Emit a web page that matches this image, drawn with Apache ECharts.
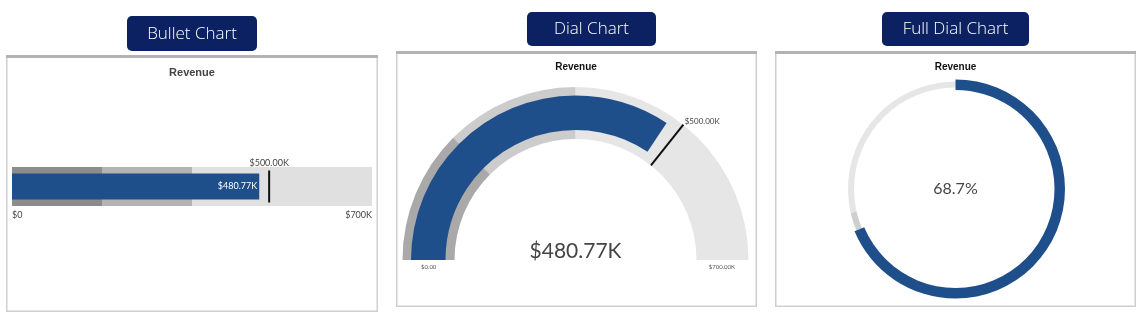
<!DOCTYPE html>
<html><head><meta charset="utf-8">
<script src="https://cdn.jsdelivr.net/npm/echarts@6/dist/echarts.min.js"></script>
<style>html,body{margin:0;padding:0;background:#fff}#c{width:1143px;height:317px}</style>
</head><body><div id="c"></div>
<script>
// ---- data ----
const chartTitles = ['Bullet Chart', 'Dial Chart', 'Full Dial Chart'];
const metricNames = ['Revenue'];
const rangeBreaks = [175, 350, 700];      // $K, upper bound of each qualitative range
const actualValues = [480.77];            // $K
const targetValues = [500];               // $K
const axisMin = 0, axisMax = 700;
const bulletTickLabels = ['$0', '$700K'];
const dialTickLabels = ['$0.00', '$700.00K'];

// ---- helpers ----
const money = v => '$' + Number(v).toFixed(2) + 'K';
const rangeSizes = rangeBreaks.map((b, i) => b - (i ? rangeBreaks[i - 1] : axisMin));
const bulletRangeColors = ['#8c8c8c', '#b3b3b3', '#e0e0e0'];
const dialRangeColors = ['#a9a9a9', '#cccccc', '#e6e6e6'];
const BLUE = '#1f4f8b';
const NAVY = '#0b2161';
const actual = actualValues[0], target = targetValues[0];
const span = axisMax - axisMin;

const dialStops = rangeBreaks.map((b, i) => [(b - axisMin) / span, dialRangeColors[i]]);
const fullStops = [[(actual - axisMin) / span, '#e6e6e6'], [(target - axisMin) / span, '#cfcfcf'], [1, '#e6e6e6']];

const tAng = Math.PI * (1 - (target - axisMin) / span);
const tLblR = 176;

const panels = [
  {x: 6, y: 55, w: 372, h: 257, bx: 127, by: 16, bw: 130, bh: 35},
  {x: 396, y: 51, w: 361, h: 256, bx: 527, by: 12, bw: 129, bh: 34},
  {x: 775, y: 51, w: 361, h: 256, bx: 882, by: 12, bw: 147, bh: 34}
];
const graphics = [];
panels.forEach((p, i) => {
  graphics.push({type: 'rect', silent: true, shape: {x: p.x + 0.75, y: p.y + 0.75, width: p.w - 1.5, height: p.h - 1.5},
    style: {fill: '#fff', stroke: '#cfcfcf', lineWidth: 1.5}, z: -10});
  graphics.push({type: 'rect', silent: true, shape: {x: p.x, y: p.y, width: p.w, height: 3},
    style: {fill: '#b3b3b3'}, z: -9});
  graphics.push({type: 'rect', silent: true, shape: {x: p.bx, y: p.by, width: p.bw, height: p.bh, r: 5},
    style: {fill: NAVY}, z: -9});
  graphics.push({type: 'text', silent: true, x: p.bx + p.bw / 2, y: p.by + p.bh / 2 + 0.5,
    style: {text: chartTitles[i], fill: '#fff', fontSize: 17, fontFamily: 'Open Sans', fontWeight: 300, align: 'center', verticalAlign: 'middle'}, z: -8});
});

const gaugeBase = {
  type: 'gauge', min: axisMin, max: axisMax, silent: true,
  axisTick: {show: false}, splitLine: {show: false, length: 0, distance: 0},
  axisLabel: {show: false}, pointer: {show: false}, anchor: {show: false},
  title: {show: false}, detail: {show: false}, progress: {show: false}
};

const option = {
  animation: false,
  graphic: graphics,
  title: [
    {text: metricNames[0], left: 192, top: 67, padding: 0, textAlign: 'center', textStyle: {fontSize: 11, fontWeight: 'bold', color: '#444', fontFamily: 'Liberation Sans'}},
    {text: metricNames[0], left: 576, top: 62, padding: 0, textAlign: 'center', textStyle: {fontSize: 10, fontWeight: 'bold', color: '#111', fontFamily: 'Liberation Sans'}},
    {text: metricNames[0], left: 955.5, top: 62, padding: 0, textAlign: 'center', textStyle: {fontSize: 10, fontWeight: 'bold', color: '#111', fontFamily: 'Liberation Sans'}}
  ],
  grid: {left: 12, top: 167, width: 360, height: 39, containLabel: false},
  xAxis: {
    type: 'value', min: axisMin, max: axisMax, interval: span,
    axisLine: {show: false}, axisTick: {show: false}, splitLine: {show: false},
    axisLabel: {
      margin: 5, fontSize: 9, color: '#444', fontFamily: 'Lato',
      alignMinLabel: 'left', alignMaxLabel: 'right',
      formatter: v => v === axisMin ? bulletTickLabels[0] : bulletTickLabels[1]
    }
  },
  yAxis: [
    {type: 'category', data: metricNames, show: false},
    {type: 'category', data: metricNames, show: false}
  ],
  series: [
    ...rangeSizes.map((s, i) => ({
      type: 'bar', stack: 'range', xAxisIndex: 0, yAxisIndex: 0, barWidth: 39, silent: true,
      data: [s], itemStyle: {color: bulletRangeColors[i]}, z: 1
    })),
    {
      type: 'bar', xAxisIndex: 0, yAxisIndex: 1, barWidth: 26, silent: true, z: 3,
      data: actualValues, itemStyle: {color: BLUE},
      label: {show: true, position: 'insideRight', distance: 2, color: '#fff', fontSize: 9, fontFamily: 'Lato', formatter: p => money(p.value)}
    },
    {
      type: 'scatter', xAxisIndex: 0, yAxisIndex: 1, silent: true, z: 4,
      symbol: 'rect', symbolSize: [2, 32],
      data: targetValues.map((t, i) => [t, metricNames[i]]),
      itemStyle: {color: '#111', opacity: 1},
      label: {show: true, position: 'top', distance: 3, color: '#444', fontSize: 9, fontFamily: 'Lato', formatter: p => money(p.value[0])}
    },
    // Dial: qualitative ranges + end labels
    Object.assign({}, gaugeBase, {
      center: [575.5, 260], radius: 173, startAngle: 180, endAngle: 0, splitNumber: 1, z: 2,
      axisLine: {show: true, lineStyle: {width: 52, color: dialStops}},
      axisLabel: {show: true, distance: 13.5, padding: [0, 0, 0, 5], lineHeight: 14, fontSize: 6, color: '#555', fontFamily: 'Lato',
        formatter: v => '\n' + (v === axisMin ? dialTickLabels[0] : dialTickLabels[1])},
      data: [{value: actual, name: metricNames[0]}]
    }),
    // Dial: actual value bar
    Object.assign({}, gaugeBase, {
      center: [575.5, 260], radius: 164.5, startAngle: 180, endAngle: 0, z: 3,
      axisLine: {show: false, lineStyle: {width: 34.5}},
      progress: {show: true, overlap: true, width: 34.5, roundCap: false, itemStyle: {color: BLUE}},
      detail: {show: true, offsetCenter: [0, -9], fontSize: 21, color: '#444', fontFamily: 'Lato', fontWeight: 'normal', formatter: v => money(v)},
      data: [{value: actual, name: metricNames[0]}]
    }),
    // Dial: target marker
    Object.assign({}, gaugeBase, {
      center: [575.5, 260], radius: 173, startAngle: 180, endAngle: 0, z: 4,
      axisLine: {show: false},
      pointer: {show: true, icon: 'rect', length: 52, width: 2, offsetCenter: [0, -121], itemStyle: {color: '#111'}},
      detail: {show: true, offsetCenter: [tLblR * Math.cos(tAng) + 17, -tLblR * Math.sin(tAng) - 1], fontSize: 8, color: '#444', fontFamily: 'Lato', fontWeight: 'normal', formatter: v => money(v)},
      data: [{value: target, name: metricNames[0]}]
    }),
    // Full dial: track
    Object.assign({}, gaugeBase, {
      center: [955.5, 189], radius: 107.5, startAngle: 90, endAngle: -270, z: 2,
      axisLine: {show: true, lineStyle: {width: 6, color: fullStops}},
      data: [{value: actual, name: metricNames[0]}]
    }),
    // Full dial: actual
    Object.assign({}, gaugeBase, {
      center: [955.5, 189], radius: 109.5, startAngle: 90, endAngle: -270, z: 3,
      axisLine: {show: false},
      progress: {show: true, overlap: true, width: 10.5, roundCap: false, itemStyle: {color: BLUE}},
      detail: {show: true, offsetCenter: [0, 0], fontSize: 16, color: '#444', fontFamily: 'Lato', fontWeight: 'normal',
        formatter: v => ((v - axisMin) / span * 100).toFixed(1) + '%'},
      data: [{value: actual, name: metricNames[0]}]
    })
  ]
};

const chart = echarts.init(document.getElementById('c'), null, {renderer: 'canvas'});
chart.setOption(option);
</script>
</body></html>
